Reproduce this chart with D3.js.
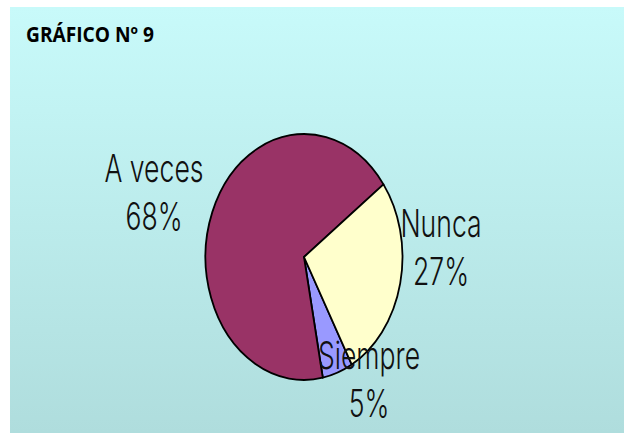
<!DOCTYPE html>
<html>
<head>
<meta charset="utf-8">
<script src="https://cdn.jsdelivr.net/npm/d3@7"></script>
<style>
  body { margin: 0; background: #fff; }
  svg { display: block; }
</style>
</head>
<body>
<script>
  'use strict'
  const W = 624, H = 434

  // data, clockwise from Siempre
  const categories = ['Siempre', 'A veces', 'Nunca']
  const values = [5, 68, 27]
  const colors = ['#9999FF', '#993366', '#FFFFCC']
  const title = 'GRÁFICO Nº 9'

  const svg = d3.select('body').append('svg')
    .attr('width', W)
    .attr('height', H)

  const grad = svg.append('defs').append('linearGradient')
    .attr('id', 'bg')
    .attr('x1', 0).attr('y1', 0).attr('x2', 0).attr('y2', 1)
  grad.append('stop').attr('offset', '0%').attr('stop-color', '#C8FAFA')
  grad.append('stop').attr('offset', '100%').attr('stop-color', '#AFDDDD')

  svg.append('rect')
    .attr('x', 10).attr('y', 7)
    .attr('width', W - 10).attr('height', H - 8)
    .attr('fill', 'url(#bg)')

  svg.append('text')
    .attr('x', 26).attr('y', 42)
    .attr('font-family', 'Open Sans, sans-serif')
    .attr('font-weight', 'bold')
    .attr('font-size', '20.5px')
    .attr('textLength', 128)
    .attr('lengthAdjust', 'spacingAndGlyphs')
    .text(title)

  // pie is squashed horizontally
  const cx = 304, cy = 257, ry = 123, rx = 98.5
  const deg = Math.PI / 180
  const pie = d3.pie().sort(null).value(d => d)
    .startAngle(151 * deg).endAngle(511 * deg)
  const arcs = pie(values)
  const arc = d3.arc().innerRadius(0).outerRadius(ry)

  const g = svg.append('g')
    .attr('transform', `translate(${cx},${cy}) scale(${rx / ry},1)`)

  g.selectAll('path')
    .data(arcs)
    .enter().append('path')
    .attr('d', arc)
    .attr('fill', (d, i) => colors[i])
    .attr('stroke', '#000')
    .attr('stroke-width', 1.8)
    .attr('vector-effect', 'non-scaling-stroke')
    .attr('stroke-linejoin', 'round')

  // label positions (centre x, first baseline)
  const labelPos = [[369, 369], [154, 182], [441, 237]]
  const total = d3.sum(values)

  const labels = svg.selectAll('g.lbl')
    .data(arcs)
    .enter().append('g')
    .attr('class', 'lbl')
    .attr('transform', (d, i) => `translate(${labelPos[i][0]},${labelPos[i][1]}) scale(0.7,1)`)
  labels.append('text')
    .attr('text-anchor', 'middle')
    .attr('font-family', 'Inter, sans-serif')
    .attr('font-weight', 300)
    .attr('font-size', '38px')
    .attr('fill', '#111')
    .each(function (d, i) {
      const t = d3.select(this)
      t.append('tspan').attr('x', 0).attr('y', 0).text(categories[i])
      t.append('tspan').attr('x', 0).attr('y', 48)
        .text(Math.round(d.value / total * 100) + '%')
    })
</script>
</body>
</html>
